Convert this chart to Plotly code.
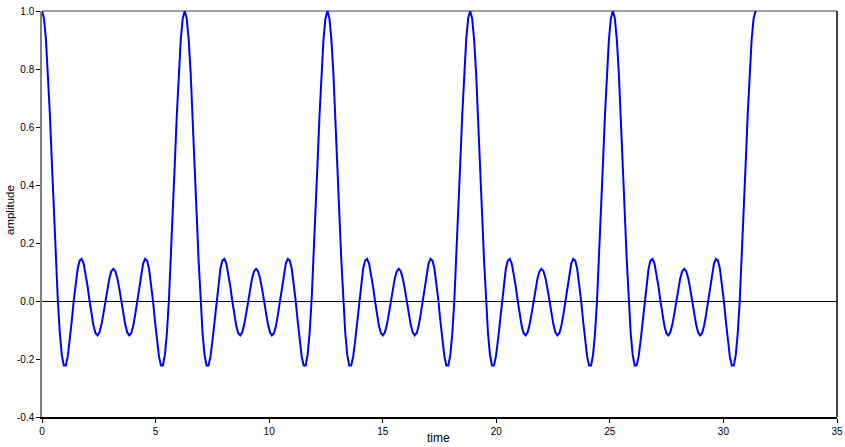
import numpy as np
import plotly.graph_objects as go

# Amplitude samples (one sample every 2*pi/72 in time)
amplitude = [
    1.0, 0.97481, 0.90146, 0.78646, 0.63986, 0.47428, 0.30356, 0.14140, 0.0, -0.11111, -0.18591, -0.22231,
    -0.22222, -0.19105, -0.13698, -0.06985, 0.0, 0.06294, 0.11111, 0.13923, 0.14505, 0.12939, 0.09591, 0.05042,
    0.0, -0.04794, -0.08669, -0.11111, -0.11824, -0.10764, -0.08134, -0.04355, 0.0, 0.04289, 0.07887, 0.10275,
    0.11111, 0.10275, 0.07887, 0.04289, 0.0, -0.04355, -0.08134, -0.10764, -0.11824, -0.11111, -0.08669, -0.04794,
    0.0, 0.05042, 0.09591, 0.12939, 0.14505, 0.13923, 0.11111, 0.06294, 0.0, -0.06985, -0.13698, -0.19105,
    -0.22222, -0.22231, -0.18591, -0.11111, 0.0, 0.14140, 0.30356, 0.47428, 0.63986, 0.78646, 0.90146, 0.97481,
    1.0, 0.97481, 0.90146, 0.78646, 0.63986, 0.47428, 0.30356, 0.14140, 0.0, -0.11111, -0.18591, -0.22231,
    -0.22222, -0.19105, -0.13698, -0.06985, 0.0, 0.06294, 0.11111, 0.13923, 0.14505, 0.12939, 0.09591, 0.05042,
    0.0, -0.04794, -0.08669, -0.11111, -0.11824, -0.10764, -0.08134, -0.04355, 0.0, 0.04289, 0.07887, 0.10275,
    0.11111, 0.10275, 0.07887, 0.04289, 0.0, -0.04355, -0.08134, -0.10764, -0.11824, -0.11111, -0.08669, -0.04794,
    0.0, 0.05042, 0.09591, 0.12939, 0.14505, 0.13923, 0.11111, 0.06294, 0.0, -0.06985, -0.13698, -0.19105,
    -0.22222, -0.22231, -0.18591, -0.11111, 0.0, 0.14140, 0.30356, 0.47428, 0.63986, 0.78646, 0.90146, 0.97481,
    1.0, 0.97481, 0.90146, 0.78646, 0.63986, 0.47428, 0.30356, 0.14140, 0.0, -0.11111, -0.18591, -0.22231,
    -0.22222, -0.19105, -0.13698, -0.06985, 0.0, 0.06294, 0.11111, 0.13923, 0.14505, 0.12939, 0.09591, 0.05042,
    0.0, -0.04794, -0.08669, -0.11111, -0.11824, -0.10764, -0.08134, -0.04355, 0.0, 0.04289, 0.07887, 0.10275,
    0.11111, 0.10275, 0.07887, 0.04289, 0.0, -0.04355, -0.08134, -0.10764, -0.11824, -0.11111, -0.08669, -0.04794,
    0.0, 0.05042, 0.09591, 0.12939, 0.14505, 0.13923, 0.11111, 0.06294, 0.0, -0.06985, -0.13698, -0.19105,
    -0.22222, -0.22231, -0.18591, -0.11111, 0.0, 0.14140, 0.30356, 0.47428, 0.63986, 0.78646, 0.90146, 0.97481,
    1.0, 0.97481, 0.90146, 0.78646, 0.63986, 0.47428, 0.30356, 0.14140, 0.0, -0.11111, -0.18591, -0.22231,
    -0.22222, -0.19105, -0.13698, -0.06985, 0.0, 0.06294, 0.11111, 0.13923, 0.14505, 0.12939, 0.09591, 0.05042,
    0.0, -0.04794, -0.08669, -0.11111, -0.11824, -0.10764, -0.08134, -0.04355, 0.0, 0.04289, 0.07887, 0.10275,
    0.11111, 0.10275, 0.07887, 0.04289, 0.0, -0.04355, -0.08134, -0.10764, -0.11824, -0.11111, -0.08669, -0.04794,
    0.0, 0.05042, 0.09591, 0.12939, 0.14505, 0.13923, 0.11111, 0.06294, 0.0, -0.06985, -0.13698, -0.19105,
    -0.22222, -0.22231, -0.18591, -0.11111, 0.0, 0.14140, 0.30356, 0.47428, 0.63986, 0.78646, 0.90146, 0.97481,
    1.0, 0.97481, 0.90146, 0.78646, 0.63986, 0.47428, 0.30356, 0.14140, 0.0, -0.11111, -0.18591, -0.22231,
    -0.22222, -0.19105, -0.13698, -0.06985, 0.0, 0.06294, 0.11111, 0.13923, 0.14505, 0.12939, 0.09591, 0.05042,
    0.0, -0.04794, -0.08669, -0.11111, -0.11824, -0.10764, -0.08134, -0.04355, 0.0, 0.04289, 0.07887, 0.10275,
    0.11111, 0.10275, 0.07887, 0.04289, 0.0, -0.04355, -0.08134, -0.10764, -0.11824, -0.11111, -0.08669, -0.04794,
    0.0, 0.05042, 0.09591, 0.12939, 0.14505, 0.13923, 0.11111, 0.06294, 0.0, -0.06985, -0.13698, -0.19105,
    -0.22222, -0.22231, -0.18591, -0.11111, 0.0, 0.14140, 0.30356, 0.47428, 0.63986, 0.78646, 0.90146, 0.97481,
    1.0,
]
# Time grid: samples from 0 to 10*pi
time = np.linspace(0, 10 * np.pi, len(amplitude))

x_ticks = [0, 5, 10, 15, 20, 25, 30, 35]
y_ticks = [-0.4, -0.2, 0.0, 0.2, 0.4, 0.6, 0.8, 1.0]
y_tick_labels = ["-0.4", "-0.2", "0.0", "0.2", "0.4", "0.6", "0.8", "1.0"]

W, H = 845, 447
ML, MR, MT, MB = 42, 8, 11, 30
PW, PH = W - ML - MR, H - MT - MB

fig = go.Figure()
fig.add_trace(go.Scatter(
    x=time, y=amplitude, mode="lines",
    line=dict(color="#0000FF", width=2),
    showlegend=False,
))

font_family = "Liberation Sans, Arial, sans-serif"

fig.update_layout(
    width=W, height=H,
    margin=dict(l=ML, r=MR, t=MT, b=MB, autoexpand=False),
    paper_bgcolor="white", plot_bgcolor="white",
    font=dict(family=font_family, size=10, color="black"),
    xaxis=dict(
        range=[0, 35], tickvals=x_ticks, showgrid=False, zeroline=False,
        showline=True, linecolor="black", linewidth=1.5,
        ticks="outside", ticklen=4, tickcolor="black",
        tickfont=dict(size=10), automargin=False,
    ),
    yaxis=dict(
        range=[-0.4, 1.0], tickvals=y_ticks, ticktext=y_tick_labels,
        showgrid=False, zeroline=True, zerolinecolor="black", zerolinewidth=1,
        showline=True, linecolor="#808080", linewidth=1.5,
        ticks="outside", ticklen=4, tickcolor="black",
        tickfont=dict(size=10), automargin=False,
    ),
    shapes=[
        dict(type="line", xref="paper", yref="paper", x0=0, x1=1, y0=1, y1=1,
             line=dict(color="#808080", width=1.5), layer="below"),
        dict(type="line", xref="paper", yref="paper", x0=1, x1=1, y0=0, y1=1,
             line=dict(color="black", width=1.5), layer="below"),
    ],
    annotations=[
        dict(text="time", xref="paper", yref="paper",
             x=(438 - ML) / PW, y=-(438 - (H - MB)) / PH,
             xanchor="center", yanchor="middle", showarrow=False,
             font=dict(size=12)),
        dict(text="amplitude", xref="paper", yref="paper",
             x=-(ML - 10) / PW, y=((H - MB) - 210) / PH, textangle=-90,
             xanchor="center", yanchor="middle", showarrow=False,
             font=dict(size=11.5)),
    ],
)

fig.write_html("out.html", config={"displayModeBar": False},
               post_script="document.body.style.margin='0';")
